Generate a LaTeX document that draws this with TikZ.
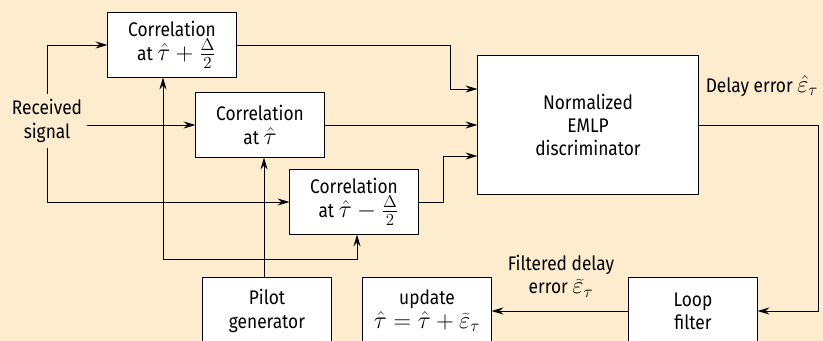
\documentclass[tikz,border=0pt]{standalone}
\usepackage{fontspec}
\setmainfont{Fira Sans}[FakeStretch=0.88]
\usetikzlibrary{calc,arrows.meta}
\definecolor{paper}{RGB}{254,236,206}
\newcommand{\bigmath}[1]{{\fontsize{17}{17}\selectfont$#1$}}

\begin{document}
\begin{tikzpicture}[x=0.025cm,y=-0.025cm,>={Stealth[length=8.5pt,width=5pt]},line width=0.7pt]

  \tikzstyle{every node}=[font=\fontsize{14}{16.5}\selectfont]
  \tikzset{block/.style={draw, fill=white, align=center, inner sep=1pt,
      minimum width=3.2cm, minimum height=1.6cm}}

  \useasboundingbox (0,0) rectangle (823,341);
  \fill [paper] (0,0) rectangle (823,341);
  \clip (0,0) rectangle (823,341);

  %% correlators
  \node [block] (cplus) at (172,45) {Correlation\\ \ \ at \bigmath{\hat{\tau}+\frac{\Delta}{2}}};
  \node [block] (czero) at (260,125) {Correlation\\ at\ \bigmath{\hat{\tau}}};
  \node [block] (cminus) at (354,202) {Correlation\\ \ \ at\ \bigmath{\hat{\tau}-\frac{\Delta}{2}}};

  \node [block, minimum width=5.5cm, minimum height=3.45cm] (disc) at (588,125) {Normalized\\ EMLP\\ discriminator};

  %% bottom row
  \node [block, minimum height=1.7cm] (pilot) at (267,311) {Pilot\\ generator};
  \node [block, minimum height=1.7cm] (update) at (427,311) {update\\ \bigmath{\hat{\tau}=\hat{\tau}+\widetilde{\varepsilon}_{\tau}}};
  \node [block, minimum height=1.7cm] (loop) at (693,311) {Loop\\ filter};

  \node [align=center] (recv) at (47,121) {Received\\ signal};
  \node (delay) at (762,86) {Delay error \bigmath{\hat{\varepsilon}_{\tau}}};
  \node [align=center] (filt) at (561,276) {Filtered delay\\ error \bigmath{\widetilde{\varepsilon}_{\tau}}};

  %% received signal
  \draw [->] (recv.north) |- (cplus.west);
  \draw [->] (recv.east |- czero.west) -- (czero.west);
  \draw [->] (recv.south) |- (cminus.west);

  %% pilot
  \coordinate (tap) at (264,259);
  \coordinate (tapl) at (163,259);
  \coordinate (tapr) at (357,259);
  \draw [->] (tap |- pilot.north) -- (tap |- czero.south);
  \draw [->] (tap) -- (tapl) -- (tapl |- cplus.south);
  \draw [->] (tap) -- (tapr) -- (tapr |- cminus.south);

  %% into the discriminator
  \coordinate (d1) at ($(disc.west)+(0,-36)$);
  \coordinate (d3) at ($(disc.west)+(0,31)$);
  \coordinate (b1) at (450,0);
  \coordinate (b3) at (443,0);
  \coordinate (b4) at (818,0);
  \draw [->] (cplus.east) -| (b1 |- d1) -- (d1);
  \draw [->] (czero.east) -- (czero.east -| disc.west);
  \draw [->] (cminus.east) -| (b3 |- d3) -- (d3);

  %% loop
  \draw [->] (disc.east) -| (b4 |- loop.east) -- (loop.east);
  \draw [->] (loop.west) -- (update.east);

\end{tikzpicture}
\end{document}
